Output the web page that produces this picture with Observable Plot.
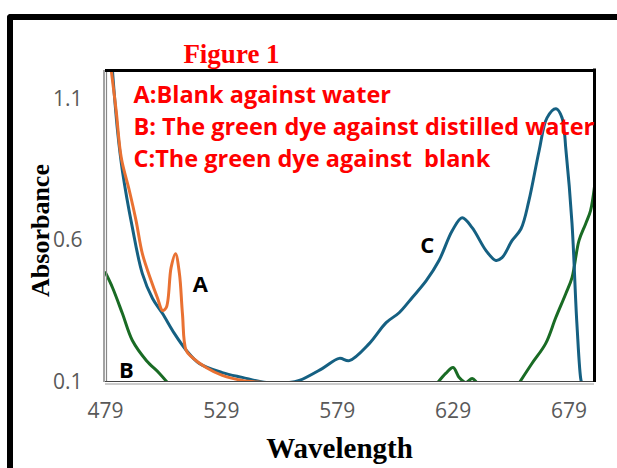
<!DOCTYPE html>
<html>
<head>
<meta charset="utf-8">
<script src="https://cdn.jsdelivr.net/npm/d3@7"></script>
<script src="https://cdn.jsdelivr.net/npm/@observablehq/plot@0.6"></script>
<style>
  html, body { margin: 0; padding: 0; background: #fff; }
  #wrap { position: relative; width: 617px; height: 468px; overflow: hidden; }
  #outer { position: absolute; left: 7px; top: 14px; width: 700px; height: 600px;
           border-left: 6px solid #000; border-top: 6px solid #000; border-top-left-radius: 4px;
           pointer-events: none; z-index: 2; }
  #chart { position: absolute; left: 0; top: 0; }
</style>
</head>
<body>
<div id="wrap"><div id="chart"></div><div id="outer"></div></div>
<script>
// ---- data ----
const xTicks = [479, 529, 579, 629, 679];
const yTicks = [0.1, 0.6, 1.1];

// C: the green dye against blank (blue)
const cWave = [482.0, 484.2, 486.3, 490.6, 494.9, 499.3, 503.6, 508.7, 513.9, 519.5, 529.4, 538.0, 548.4, 558.3, 562.6, 572.5, 579.9, 584.2, 592.8, 600.1, 605.7, 611.3, 617.4, 622.9, 628.6, 632.9, 637.2, 643.2, 647.5, 650.1, 654.4, 658.3, 661.7, 666.1, 669.5, 673.4, 676.0, 677.7, 680.3, 682.4, 684.2, 684.6, 689.5];
const cAbs  = [1.20, 0.987, 0.846, 0.646, 0.484, 0.396, 0.343, 0.273, 0.213, 0.167, 0.135, 0.118, 0.100, 0.100, 0.107, 0.149, 0.185, 0.177, 0.237, 0.311, 0.346, 0.399, 0.459, 0.530, 0.635, 0.681, 0.646, 0.565, 0.530, 0.540, 0.600, 0.642, 0.741, 0.917, 1.033, 1.065, 1.033, 0.917, 0.660, 0.308, 0.107, 0.100, 0.100];

// A: blank against water (orange)
const aWave = [481.5, 483.6, 485.8, 489.3, 492.2, 494.9, 498.7, 501.4, 503.6, 505.2, 507.3, 509.2, 510.9, 512.2, 513.8, 516.5, 522.4, 529.4, 538.0, 546.7, 549.3];
const aAbs  = [1.20, 1.058, 0.892, 0.776, 0.670, 0.554, 0.459, 0.399, 0.354, 0.364, 0.505, 0.554, 0.484, 0.343, 0.213, 0.188, 0.153, 0.125, 0.107, 0.100, 0.098];

// B: the green dye against distilled water (green), three visible segments
const bWave = [479.0, 482.0, 486.3, 490.6, 496.7, 502.3, 505.7,  622.1, 625.8, 629.0, 631.6, 634.5, 637.2, 639.3, 640.9,  657.4, 663.0, 668.9, 673.3, 677.6, 680.3, 683.3, 686.2, 688.3, 690.0];
const bAbs  = [0.487, 0.435, 0.343, 0.248, 0.177, 0.132, 0.100,  0.097, 0.132, 0.153, 0.118, 0.100, 0.114, 0.100, 0.090,  0.097, 0.167, 0.237, 0.329, 0.413, 0.470, 0.600, 0.660, 0.706, 0.790];
const bSeg  = [1, 1, 1, 1, 1, 1, 1,  2, 2, 2, 2, 2, 2, 2, 2,  3, 3, 3, 3, 3, 3, 3, 3, 3, 3];

const legendLines = ["A:Blank against water", "B: The green dye against distilled water", "C:The green dye against  blank"];
const curveLabels = ["A", "B", "C"];
const curveLabelX = [519.9, 488.0, 617.8];
const curveLabelY = [0.445, 0.142, 0.582];

// ---- tables ----
const C = cWave.map((x, i) => ({x, y: cAbs[i]}));
const A = aWave.map((x, i) => ({x, y: aAbs[i]}));
const B = bWave.map((x, i) => ({x, y: bAbs[i], s: bSeg[i]}));
const labels = curveLabels.map((t, i) => ({t, x: curveLabelX[i], y: curveLabelY[i]}));

const sans = "'Open Sans', 'Noto Sans', sans-serif";
const serif = "'Liberation Serif', 'Times New Roman', serif";

const legendMarks = legendLines.map((t, i) => Plot.text([t], {
  frameAnchor: "top-left", dx: 28, dy: [24.5, 56.5, 89][i], textAnchor: "start", lineAnchor: "middle",
  fill: "#FF0000", fontWeight: "bold", fontSize: 23.5, fontFamily: sans
}));

const chart = Plot.plot({
  width: 617, height: 468,
  marginLeft: 105, marginRight: 23, marginTop: 70, marginBottom: 86,
  style: {background: "transparent", color: "#595959", whiteSpace: "pre", fontFamily: sans},
  x: {domain: [479, 690], ticks: xTicks, label: null},
  y: {domain: [0.1, 1.2], ticks: yTicks, label: null},
  marks: [
    Plot.axisX({ticks: xTicks, tickSize: 0, tickPadding: 20.5, fontSize: 21, fill: "#595959", label: null}),
    Plot.axisY({ticks: yTicks, tickSize: 0, tickPadding: 23, fontSize: 21, fill: "#595959", tickFormat: ".1f", label: null}),
    Plot.line(B, {x: "x", y: "y", z: "s", stroke: "#196B24", strokeWidth: 3, curve: "catmull-rom", clip: true}),
    Plot.line(C, {x: "x", y: "y", stroke: "#156082", strokeWidth: 3, curve: "catmull-rom", clip: true}),
    Plot.line(A, {x: "x", y: "y", stroke: "#E97132", strokeWidth: 3, curve: "catmull-rom", clip: true}),
    // plot area border
    Plot.ruleX([479], {stroke: "#666", strokeWidth: 1.2, dx: -1.5}),
    Plot.ruleX([479], {stroke: "#888", strokeWidth: 1.2, dx: 1}),
    Plot.ruleY([0.1], {stroke: "#444", strokeWidth: 1.2, dy: -1}),
    Plot.ruleY([0.1], {stroke: "#999", strokeWidth: 1.2, dy: 1.5}),
    Plot.ruleY([1.2], {stroke: "#000", strokeWidth: 3}),
    Plot.ruleX([690], {stroke: "#000", strokeWidth: 3, y1: 1.2, y2: 0.1, insetTop: -1.5}),
    ...legendMarks,
    Plot.text(labels, {x: "x", y: "y", text: "t", fill: "#000", fontWeight: "bold", fontSize: 22, fontFamily: sans}),
    Plot.text(["Figure 1"], {frameAnchor: "top-left", dx: 126, dy: -8, textAnchor: "middle", lineAnchor: "bottom",
      fill: "#FF0000", fontWeight: "bold", fontSize: 27, fontFamily: serif}),
    Plot.text(["Absorbance"], {frameAnchor: "left", dx: -65, dy: 4, rotate: -90, textAnchor: "middle", lineAnchor: "middle",
      fill: "#000", fontWeight: "bold", fontSize: 26, fontFamily: serif}),
    Plot.text(["Wavelength"], {frameAnchor: "bottom", dx: -10.5, dy: 75, textAnchor: "middle", lineAnchor: "bottom",
      fill: "#000", fontWeight: "bold", fontSize: 29, fontFamily: serif})
  ]
});
document.getElementById("chart").appendChild(chart);
</script>
</body>
</html>
